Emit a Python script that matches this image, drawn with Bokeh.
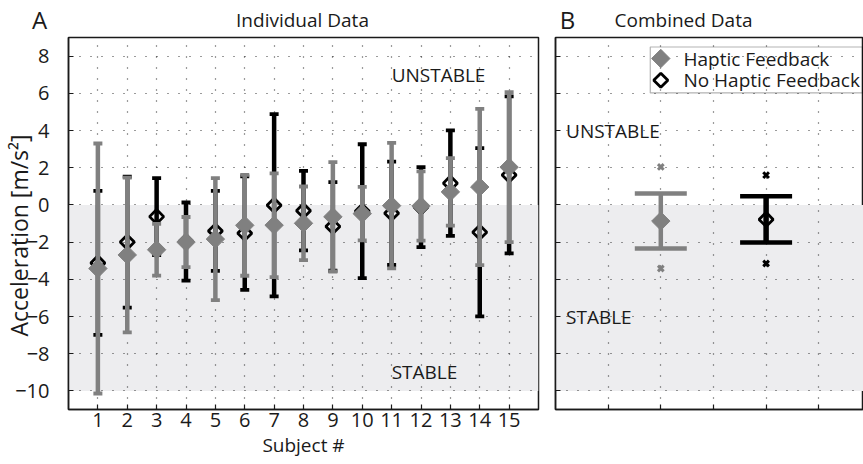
import math

from bokeh.plotting import figure
from bokeh.layouts import row, column
from bokeh.models import (ColumnDataSource, FixedTicker, BoxAnnotation, Range1d)
from bokeh.core.properties import value
from bokeh.embed import file_html
from bokeh.resources import INLINE

FONT = "Open Sans"
GRAY = "#808080"
BLACK = "#000000"
SHADE = "#ededef"
INK = "#1a1a1a"

# ---- per-subject data (mean +/- SD of peak acceleration, m/s^2) ----
subjects = list(range(1, 16))
haptic_mean = [-3.42, -2.69, -2.41, -2.00, -1.84, -1.10, -1.09, -0.99,
               -0.64, -0.47, -0.04, -0.06, 0.70, 0.96, 2.03]
haptic_sd = [6.72, 4.16, 1.39, 1.35, 3.28, 2.71, 2.79, 1.98,
             2.94, 1.44, 3.37, 1.86, 1.81, 4.20, 4.03]
nohaptic_mean = [-3.12, -2.00, -0.63, -1.97, -1.40, -1.52, -0.02, -0.31,
                 -1.16, -0.34, -0.45, -0.12, 1.17, -1.47, 1.61]
nohaptic_sd = [3.87, 3.52, 2.07, 2.10, 2.15, 3.05, 4.90, 2.14,
               2.38, 3.60, 2.78, 2.15, 2.84, 4.52, 4.22]

# ---- pooled data ----
group_names = ["Haptic Feedback", "No Haptic Feedback"]
group_x = [2, 4]
comb_mean = [-0.87, -0.78]
comb_upper = [0.61, 0.47]
comb_lower = [-2.35, -2.02]
comb_max = [2.04, 1.60]
comb_min = [-3.42, -3.15]

# stable region (shaded) and axis ticks
stable_top, stable_bottom = 0, -10
y_ticks = list(range(-10, 9, 2))
y_tick_labels = {t: str(t).replace("-", "\u2212") for t in y_ticks}
right_x_ticks = [1, 2, 3, 4, 5]

# panel headings
panel_letters = ["A", "B"]
panel_titles = ["Individual Data", "Combined Data"]

Y_RANGE = (-11, 9)
PANEL_H = 428


def style_axis(ax, labels=True):
    ax.axis_line_color = INK
    ax.axis_line_width = 1.5
    ax.major_tick_line_color = INK
    ax.major_tick_line_width = 1.2
    ax.major_tick_in = 5
    ax.major_tick_out = 0
    ax.minor_tick_line_color = None
    ax.major_label_text_font = FONT
    ax.major_label_text_font_size = "20px"
    ax.major_label_text_color = INK
    if not labels:
        ax.major_label_overrides = {t: "" for t in ax.ticker.ticks}
        ax.major_label_standoff = 0


def style_grid(p):
    for g in (p.xgrid, p.ygrid):
        g.grid_line_color = "#222222"
        g.grid_line_width = 1.2
        g.grid_line_dash = "1 10"
        g.grid_line_alpha = 0.9


def errorbars(p, src, xcol, lcol, ucol, color, stem_w, cap_size, cap_w):
    p.segment(x0=xcol, y0=lcol, x1=xcol, y1=ucol, source=src,
              line_color=color, line_width=stem_w)
    for col in (ucol, lcol):
        p.scatter(x=xcol, y=col, source=src, marker="dash", size=cap_size,
                  line_color=color, line_width=cap_w)


def diamonds(p, xs, ys, filled, source=None, fill="white"):
    kw = dict(marker="square", angle=math.pi / 4)
    if source is not None:
        kw["source"] = source
    if filled:
        p.scatter(xs, ys, size=13, fill_color=GRAY, line_color=GRAY, line_width=1, **kw)
    elif fill is None:
        p.scatter(xs, ys, size=10, fill_alpha=0, line_color=BLACK, line_width=2.8, **kw)
    else:
        p.scatter(xs, ys, size=10, fill_color=fill, line_color=BLACK, line_width=2.8, **kw)


def base_panel(width, x_range, min_left, min_right):
    p = figure(width=width, height=PANEL_H, x_range=x_range, y_range=Range1d(*Y_RANGE),
               output_backend="svg", toolbar_location=None,
               min_border_left=min_left, min_border_right=min_right, min_border_top=1,
               min_border_bottom=55)
    p.outline_line_color = INK
    p.outline_line_width = 1.5
    p.background_fill_color = "white"
    p.border_fill_color = "white"
    p.add_layout(BoxAnnotation(bottom=stable_bottom, top=stable_top, fill_color=SHADE,
                               fill_alpha=1, line_color=None, level="image"))
    return p


# =================== Panel A: individual data ===================
p1 = base_panel(546, Range1d(0, 16), 67, 8)
p1.xaxis.ticker = FixedTicker(ticks=subjects)
p1.yaxis.ticker = FixedTicker(ticks=y_ticks)
style_axis(p1.xaxis[0])
style_axis(p1.yaxis[0])
p1.yaxis.major_label_overrides = y_tick_labels
p1.yaxis.major_label_standoff = 19
p1.xaxis.major_label_standoff = 3
p1.xaxis.axis_label = "Subject #"
p1.xaxis.axis_label_standoff = 2
# trailing no-break spaces nudge the rotated label down a little along the axis
p1.yaxis.axis_label = "Acceleration [m/s\u00b2]" + "\u00a0" * 4
p1.yaxis.axis_label_standoff = -23
for ax in (p1.xaxis[0], p1.yaxis[0]):
    ax.axis_label_text_font = FONT
    ax.axis_label_text_font_style = "normal"
    ax.axis_label_text_color = INK
p1.xaxis.axis_label_text_font_size = "19px"
p1.yaxis.axis_label_text_font_size = "23px"

p1.xgrid.ticker = FixedTicker(ticks=subjects)
p1.ygrid.ticker = FixedTicker(ticks=y_ticks)
style_grid(p1)

src_nh = ColumnDataSource(dict(
    x=subjects, m=nohaptic_mean,
    lo=[m - s for m, s in zip(nohaptic_mean, nohaptic_sd)],
    hi=[m + s for m, s in zip(nohaptic_mean, nohaptic_sd)]))
src_h = ColumnDataSource(dict(
    x=subjects, m=haptic_mean,
    lo=[m - s for m, s in zip(haptic_mean, haptic_sd)],
    hi=[m + s for m, s in zip(haptic_mean, haptic_sd)]))

# no-feedback bars first, feedback bars drawn on top
errorbars(p1, src_nh, "x", "lo", "hi", BLACK, 4.5, 9, 3.8)
diamonds(p1, "x", "m", filled=False, source=src_nh, fill=None)
errorbars(p1, src_h, "x", "lo", "hi", GRAY, 4.5, 9, 3.8)
diamonds(p1, "x", "m", filled=True, source=src_h)

p1.text(x=[11, 11], y=[7, -9], text=["UNSTABLE", "STABLE"], text_font=value(FONT),
        text_font_size="19px", text_color=INK, text_align="left",
        text_baseline="middle")

# =================== Panel B: combined data ===================
p2 = base_panel(317, Range1d(0, 5.85), 9, 0)
p2.xaxis.ticker = FixedTicker(ticks=right_x_ticks)
p2.yaxis.ticker = FixedTicker(ticks=y_ticks)
style_axis(p2.xaxis[0], labels=False)
style_axis(p2.yaxis[0], labels=False)

p2.xgrid.ticker = FixedTicker(ticks=right_x_ticks)
p2.ygrid.ticker = FixedTicker(ticks=y_ticks)
style_grid(p2)

colors = [GRAY, BLACK]
stem_widths = [4.5, 5.5]
for i in range(len(group_names)):
    src = ColumnDataSource(dict(x=[group_x[i]], m=[comb_mean[i]], lo=[comb_lower[i]],
                                hi=[comb_upper[i]], mx=[comb_max[i]], mn=[comb_min[i]]))
    errorbars(p2, src, "x", "lo", "hi", colors[i], stem_widths[i], 52, 4.5)
    diamonds(p2, "x", "m", filled=(i == 0), source=src, fill=None)
    for col in ("mx", "mn"):
        p2.scatter(x="x", y=col, source=src, marker="x", size=8,
                   line_color=colors[i], line_width=3)

p2.text(x=[0.2, 0.2], y=[4, -6], text=["UNSTABLE", "STABLE"], text_font=value(FONT),
        text_font_size="19px", text_color=INK, text_align="left",
        text_baseline="middle")

# legend box, symbols and entries (panel B coordinates)
leg_x, leg_text_x = 2.0, 2.43
leg_y = [7.87, 6.70]
p2.add_layout(BoxAnnotation(left=1.8, right=5.83, top=8.49, bottom=6.02, fill_alpha=0,
                            line_color=BLACK, line_width=1.2))
diamonds(p2, [leg_x], [leg_y[0]], filled=True)
diamonds(p2, [leg_x], [leg_y[1]], filled=False, fill="white")
p2.text(x=[leg_text_x, leg_text_x], y=leg_y, text=group_names, text_font=value(FONT),
        text_font_size="19px", text_color=INK, text_align="left", text_baseline="middle")

# =================== headings strip ===================
head = figure(width=863, height=464 - PANEL_H, x_range=Range1d(0, 863),
              y_range=Range1d(0, 464 - PANEL_H), output_backend="svg",
              toolbar_location=None, x_axis_type=None, y_axis_type=None,
              min_border=0, outline_line_color=None)
head.grid.visible = False
head.background_fill_color = "white"
head.border_fill_color = "white"
letter_x = [39, 567]
title_x = [302, 683]
head.text(x=letter_x, y=[17, 17], text=panel_letters, text_font=value(FONT),
          text_font_size="24px", text_color=INK, text_align="center",
          text_baseline="middle")
head.text(x=title_x, y=[17, 17], text=panel_titles, text_font=value(FONT),
          text_font_size="19px", text_color=INK, text_align="center",
          text_baseline="middle")

layout = column(head, row(p1, p2, spacing=0), spacing=0)
open("out.html", "w").write(file_html(layout, INLINE))
